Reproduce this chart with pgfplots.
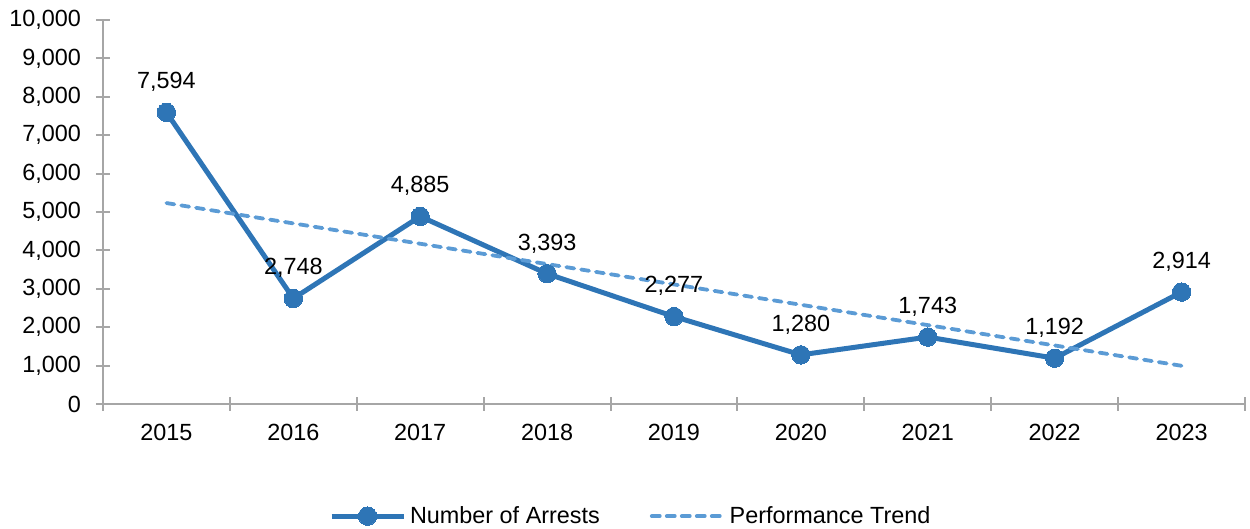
\documentclass[border=0pt]{standalone}
\usepackage{pgfplots}
\pgfplotsset{compat=1.18}
\usepackage{fontspec}
\setmainfont{Liberation Sans}
\definecolor{arrests}{HTML}{2E75B6}
\definecolor{trend}{HTML}{5B9BD5}
\definecolor{axgray}{HTML}{A6A6A6}
\begin{document}
\begin{tikzpicture}
  \begin{axis}[
      scale only axis,
      width=571pt, height=192pt,
      xmin=-0.5, xmax=8.5,
      ymin=0, ymax=10000,
      axis x line*=bottom, axis y line*=left,
      axis line style={draw=axgray, line width=1pt},
      xtick={0,...,8},
      xticklabels={2015,2016,2017,2018,2019,2020,2021,2022,2023},
      minor xtick={-0.5,0.5,...,8.5},
      ytick={0,1000,...,10000},
      major x tick style={draw=none},
      minor x tick style={draw=axgray, line width=1pt},
      y tick style={draw=axgray, line width=1pt},
      tick align=center,
      major tick length=7pt, minor tick length=7pt,
      scaled y ticks=false,
      /pgf/number format/.cd, 1000 sep={,}, assume math mode=true,
      /pgfplots/.cd,
      tick label style={font=\fontsize{11.7}{14}\selectfont},
      xticklabel style={yshift=-3pt},
      yticklabel style={xshift=-4pt},
      legend style={
        at={(0.463,-0.292)}, anchor=center,
        draw=none, fill=none,
        legend columns=2,
        font=\fontsize{11.7}{14}\selectfont,
        /tikz/every even column/.append style={column sep=23pt},
        inner sep=0pt,
      },
      legend cell align=left,
      legend image code/.code={%
        \draw[mark repeat=2,mark phase=2,#1]
          plot coordinates {(0pt,0pt) (18pt,0pt) (36pt,0pt)};},
    ]
    \addplot[
      color=arrests, line width=2.5pt,
      mark=*, mark size=4.6pt, mark options={fill=arrests, draw=arrests, line width=0pt},
      nodes near coords,
      every node near coord/.append style={
        font=\fontsize{11.7}{14}\selectfont, color=black, yshift=7pt},
    ] coordinates {
      (0,7594) (1,2748) (2,4885) (3,3393) (4,2277)
      (5,1280) (6,1743) (7,1192) (8,2914)
    };
    \addlegendentry{Number of Arrests}
    \addplot[
      color=trend, line width=1.9pt, line cap=round,
      dash pattern=on 4pt off 3.5pt, no marks,
    ] coordinates {
      (0,5233) (8,995)
    };
    \addlegendentry{Performance Trend}
  \end{axis}
  \pgfresetboundingbox
  \useasboundingbox (-51.5pt,-62.5pt) rectangle (573.5pt,202pt);
\end{tikzpicture}
\end{document}
